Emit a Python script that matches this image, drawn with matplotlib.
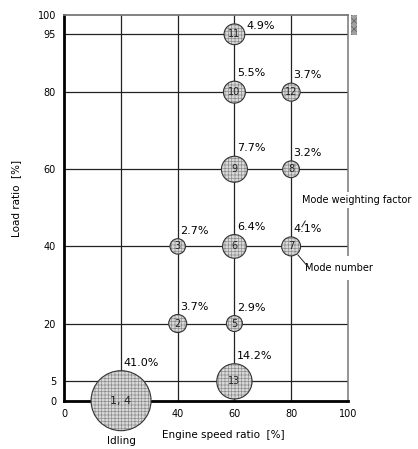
import numpy as np
import matplotlib.pyplot as plt
from matplotlib.patches import Rectangle

# 13 mode test cycle (modes 1 and 4 are both idling)
modes = ['1, 4', '2', '3', '5', '6', '7', '8', '9', '10', '11', '12', '13']
speed = [20, 40, 40, 60, 60, 80, 80, 60, 60, 60, 80, 60]   # engine speed ratio [%]
load = [0, 20, 40, 20, 40, 40, 60, 60, 80, 95, 80, 5]      # load ratio [%]
weight = [41.0, 3.7, 2.7, 2.9, 6.4, 4.1, 3.2, 7.7, 5.5, 4.9, 3.7, 14.2]  # weighting factor [%]

y_ticks = [0, 5, 20, 40, 60, 80, 95, 100]
x_ticks = [0, 40, 60, 80, 100]
x_grid = [20, 40, 60, 80]
y_grid = [5, 20, 40, 60, 80, 95]

plt.rcParams['font.family'] = ['DejaVu Sans']
plt.rcParams['hatch.linewidth'] = 0.5

fig = plt.figure(figsize=(4.18, 4.49), dpi=100)
ax = fig.add_axes([0.154, 0.1076, 0.678, 0.859])
ax.set_xlim(0, 100)
ax.set_ylim(0, 100)

# grid
for gx in x_grid:
    ax.axvline(gx, color='#222222', lw=0.9, zorder=1)
for gy in y_grid:
    ax.axhline(gy, color='#222222', lw=0.9, zorder=1)

# frame
ax.spines['left'].set_linewidth(2.0)
ax.spines['bottom'].set_linewidth(2.0)
ax.spines['top'].set_color('#777777')
ax.spines['top'].set_linewidth(1.3)
ax.spines['right'].set_color('#777777')
ax.spines['right'].set_linewidth(1.1)

ax.set_xticks(x_ticks)
ax.set_yticks(y_ticks)
ax.tick_params(length=0, labelsize=7)
ax.tick_params(axis='x', pad=6)
ax.tick_params(axis='y', pad=6)

# bubbles: area proportional to weighting factor
sizes = [45.5 * w for w in weight]
ax.scatter(speed, load, s=sizes, facecolor='#d9d9d9', edgecolor='#8e8e8e',
           linewidth=0, hatch='+++++', zorder=5, clip_on=False)
ax.scatter(speed, load, s=sizes, facecolor='none', edgecolor='#333333',
           linewidth=0.8, zorder=6, clip_on=False)

for m, x, y, w in zip(modes, speed, load, weight):
    ax.text(x, y, m, ha='center', va='center', fontsize=7 if len(m) < 3 else 8,
            color='#222222', zorder=7)
    r = 30 * np.sqrt(w / 41.0) * 0.72   # radius in points
    if y >= 95:
        ax.annotate(f'{w:.1f}%', (x, y), xytext=(r + 1, 6), textcoords='offset points',
                    ha='left', va='center', fontsize=8, zorder=8)
    else:
        ax.annotate(f'{w:.1f}%', (x, y), xytext=(1.8, r + 2.0), textcoords='offset points',
                    ha='left', va='bottom', fontsize=8, zorder=8)

# key for the bubble labels
ax.text(83.8, 52.0, 'Mode weighting factor', fontsize=7, ha='left', va='center',
        bbox=dict(facecolor='white', edgecolor='none', pad=2), zorder=9, clip_on=False)
ax.plot([85.0, 83.8], [46.6, 45.1], color='#222222', lw=0.7, zorder=9)
ax.text(84.9, 34.4, 'Mode number', fontsize=7, ha='left', va='center',
        bbox=dict(facecolor='white', edgecolor='none', pad=5), zorder=9, clip_on=False)
ax.plot([82.4, 86.1], [37.8, 34.6], color='#222222', lw=0.7, zorder=9)

ax.text(0.56, -0.089, 'Engine speed ratio  [%]', transform=ax.transAxes,
        ha='center', va='center', fontsize=7.5)
ax.text(20, -0.1045, 'Idling', transform=ax.get_xaxis_transform(),
        ha='center', va='center', fontsize=7.5)
ax.text(-0.17, 0.525, 'Load ratio  [%]', transform=ax.transAxes, rotation=90,
        ha='center', va='center', fontsize=7.5)

# small shaded block beside the top right corner
fig.patches.append(Rectangle((0.839, 0.922), 0.0144, 0.0445, transform=fig.transFigure,
                             facecolor='#a0a0a0', edgecolor='#606060', linewidth=0,
                             hatch='xxxx', figure=fig))

fig.savefig('out.png', dpi=100)
